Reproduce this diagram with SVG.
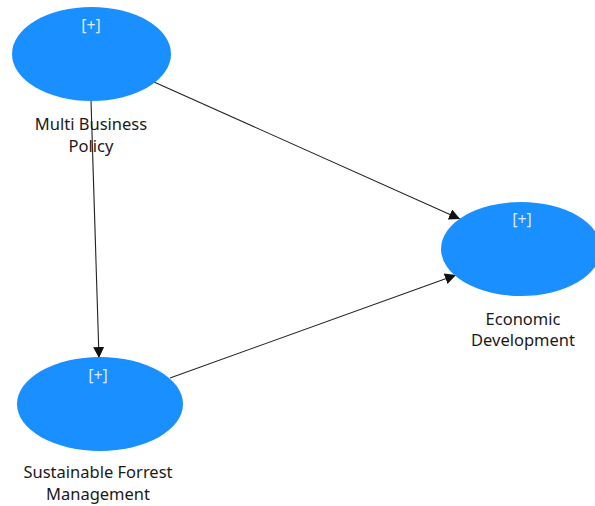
<svg xmlns="http://www.w3.org/2000/svg" width="595" height="506" viewBox="0 0 595 506">
  <style>
    .node { fill: #1a8fff; }
    .tag { font-family: "Noto Sans", "Open Sans", sans-serif; font-size: 16px; fill: #dbe9ff; text-anchor: middle; }
    .label { font-family: "Noto Sans", "Open Sans", sans-serif; font-size: 16.5px; fill: #1a1a1a; text-anchor: middle; }
    .edge { stroke: #222; stroke-width: 1.1; fill: none; marker-end: url(#arrow); }
  </style>
  <defs>
    <marker id="arrow" viewBox="0 0 10 10" refX="10" refY="5" markerWidth="11" markerHeight="11" markerUnits="userSpaceOnUse" orient="auto">
      <path d="M0,0 L10,5 L0,10 Z" fill="#111"/>
    </marker>
  </defs>
  <rect width="595" height="506" fill="#ffffff"/>

  <g id="connectors">
    <line class="edge" x1="154" y1="82" x2="460" y2="219"/>
    <line class="edge" x1="91" y1="101" x2="99" y2="358"/>
    <line class="edge" x1="170" y1="378" x2="456" y2="275"/>
  </g>

  <g id="multi-business-policy">
    <ellipse class="node" cx="91.5" cy="54" rx="79.5" ry="47"/>
    <text class="tag" x="91" y="31">[+]</text>
    <text class="label" x="91" y="130">Multi Business</text>
    <text class="label" x="91" y="152">Policy</text>
  </g>

  <g id="economic-development">
    <ellipse class="node" cx="521" cy="249" rx="80" ry="47"/>
    <text class="tag" x="522" y="225">[+]</text>
    <text class="label" x="523" y="325">Economic</text>
    <text class="label" x="523" y="346">Development</text>
  </g>

  <g id="sustainable-forrest-management">
    <ellipse class="node" cx="100" cy="404" rx="83" ry="47"/>
    <text class="tag" x="98" y="381">[+]</text>
    <text class="label" x="98" y="478">Sustainable Forrest</text>
    <text class="label" x="98" y="500">Management</text>
  </g>
</svg>
